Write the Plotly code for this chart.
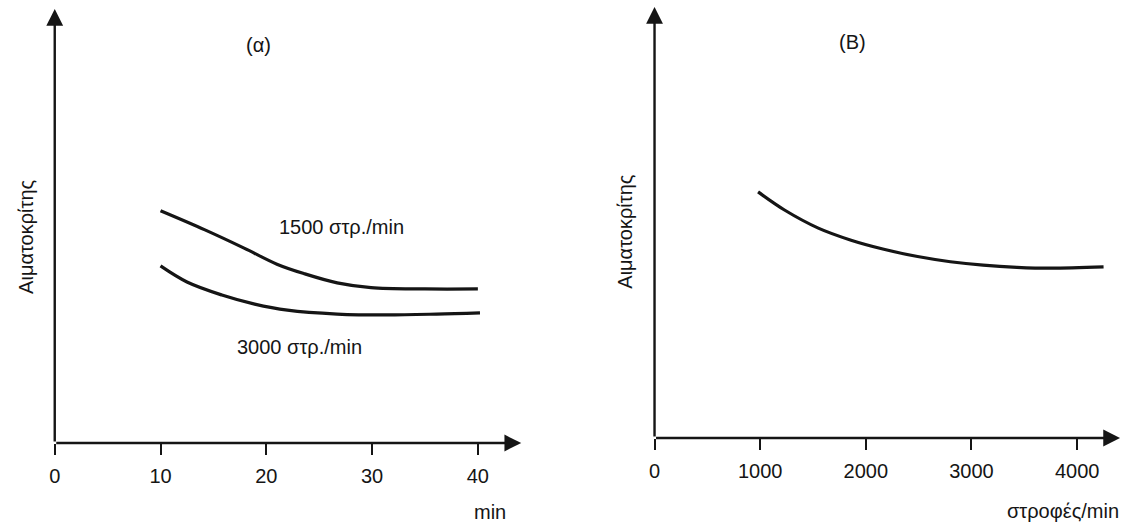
import plotly.graph_objects as go

# ---- data (y in arbitrary units 0-100) ----
t_min = [10, 14.2, 17.9, 21.0, 23.6, 26.7, 29.9, 35, 40]
hct_1500 = [53.5, 49.1, 44.9, 41.2, 39.0, 36.9, 35.8, 35.5, 35.5]
t_min_b = [10, 12.5, 15.8, 18.9, 22.0, 26.7, 31.4, 36.1, 40.2]
hct_3000 = [40.8, 37.1, 34.1, 32.0, 30.6, 29.7, 29.5, 29.7, 30.0]

rpm = [980, 1230, 1550, 1860, 2170, 2490, 2800, 3110, 3430, 3750, 4250]
hct_rpm = [57.1, 52.9, 48.7, 45.9, 43.8, 42.1, 40.9, 40.1, 39.6, 39.4, 39.7]

ticks_a = [0, 10, 20, 30, 40]
ticks_b = [0, 1000, 2000, 3000, 4000]

XMAX_A = 44.1
XMAX_B = 4406
YMAX = 100

W, H = 1128, 526
FONT = "Liberation Sans, Arial, Helvetica, sans-serif"
INK = "#151515"

fig = go.Figure()
line = dict(color=INK, width=3.2, shape="spline", smoothing=1.0)
fig.add_trace(go.Scatter(x=t_min, y=hct_1500, mode="lines", line=line,
                         xaxis="x", yaxis="y", showlegend=False))
fig.add_trace(go.Scatter(x=t_min_b, y=hct_3000, mode="lines", line=line,
                         xaxis="x", yaxis="y", showlegend=False))
fig.add_trace(go.Scatter(x=rpm, y=hct_rpm, mode="lines", line=line,
                         xaxis="x2", yaxis="y2", showlegend=False))


def px_dom(a, b, total):
    return [a / total, b / total]


tickfont = dict(family=FONT, size=20, color=INK)
common_x = dict(showgrid=False, zeroline=False, showline=False,
                ticks="outside", ticklen=11, tickwidth=2, tickcolor=INK,
                tickfont=tickfont, ticklabelstandoff=4, fixedrange=True)
common_y = dict(showgrid=False, zeroline=False, showline=False,
                showticklabels=False, ticks="", fixedrange=True)

fig.update_layout(
    width=W, height=H,
    margin=dict(l=0, r=0, t=0, b=0),
    paper_bgcolor="white", plot_bgcolor="white",
    xaxis=dict(domain=px_dom(49, 518, W), range=[0, XMAX_A],
               tickvals=ticks_a, ticktext=[str(v) for v in ticks_a],
               anchor="y", **common_x),
    yaxis=dict(domain=[1 - 443 / H, 1 - 9 / H], range=[0, YMAX],
               anchor="x", **common_y),
    xaxis2=dict(domain=px_dom(652, 1120, W), range=[0, XMAX_B],
                tickvals=ticks_b, ticktext=[str(v) for v in ticks_b],
                anchor="y2", **common_x),
    yaxis2=dict(domain=[1 - 438 / H, 1 - 7 / H], range=[0, YMAX],
                anchor="x2", **common_y),
)

ann = []
# axis arrows
for xr, yr, xmax in (("x", "y", XMAX_A), ("x2", "y2", XMAX_B)):
    ann.append(dict(x=xmax, y=0, ax=0, ay=0, xref=xr, yref=yr, axref=xr, ayref=yr,
                    text="", showarrow=True, arrowhead=2, arrowsize=1.4,
                    arrowwidth=2.4, arrowcolor=INK))
    ann.append(dict(x=0, y=YMAX, ax=0, ay=0, xref=xr, yref=yr, axref=xr, ayref=yr,
                    text="", showarrow=True, arrowhead=2, arrowsize=1.4,
                    arrowwidth=2.4, arrowcolor=INK))

lab = dict(family=FONT, size=20, color=INK)
c = dict(showarrow=False, font=lab, xanchor="center", yanchor="middle")
ann += [
    dict(x=19.3, y=91.7, xref="x", yref="y", text="(α)", **c),
    dict(x=1877, y=91.9, xref="x2", yref="y2", text="(B)", **c),
    dict(x=27.1, y=49.8, xref="x", yref="y", text="1500 στρ./min", **c),
    dict(x=23.1, y=22.1, xref="x", yref="y", text="3000 στρ./min", **c),
    dict(x=487 / W, y=1 - 512 / H, xref="paper", yref="paper", text="min", **c),
    dict(x=1063 / W, y=1 - 511 / H, xref="paper", yref="paper", text="στροφές/min", **c),
    dict(x=20 / W, y=1 - 237 / H, xref="paper", yref="paper", text="Αιματοκρίτης",
         textangle=-90, **c),
    dict(x=622 / W, y=1 - 232 / H, xref="paper", yref="paper", text="Αιματοκρίτης",
         textangle=-90, **c),
]
fig.update_layout(annotations=ann)

fig.write_html("out.html", config={"displayModeBar": False},
               post_script="document.body.style.margin='0';document.body.style.overflow='hidden';")
